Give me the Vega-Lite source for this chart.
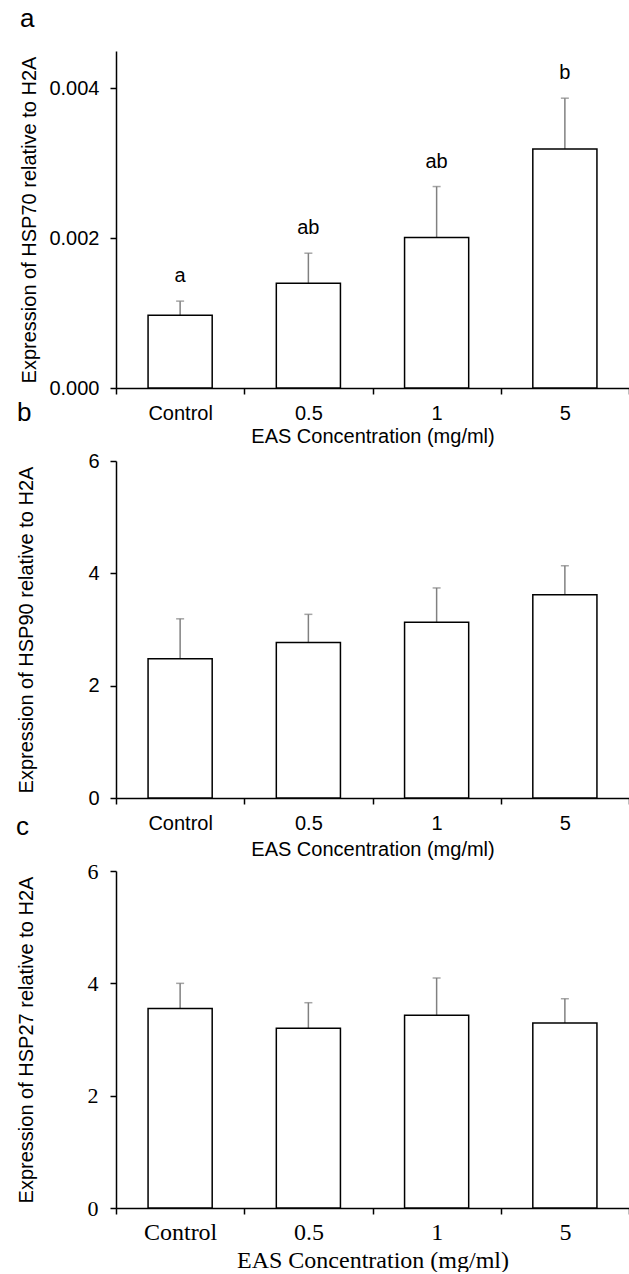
{
  "$schema": "https://vega.github.io/schema/vega-lite/v6.json",
  "padding": {"left": 16, "top": 6, "right": 0, "bottom": 0},
  "background": "white",
  "spacing": 73,
  "bounds": "flush",
  "datasets": {
    "hsp70": [
      {"conc": "Control", "mean": 0.00097, "upper": 0.00116, "letter": "a"},
      {"conc": "0.5", "mean": 0.0014, "upper": 0.0018, "letter": "ab"},
      {"conc": "1", "mean": 0.00201, "upper": 0.00269, "letter": "ab"},
      {"conc": "5", "mean": 0.00319, "upper": 0.00387, "letter": "b"}
    ],
    "hsp90": [
      {"conc": "Control", "mean": 2.48, "upper": 3.19},
      {"conc": "0.5", "mean": 2.77, "upper": 3.27},
      {"conc": "1", "mean": 3.13, "upper": 3.74},
      {"conc": "5", "mean": 3.62, "upper": 4.135}
    ],
    "hsp27": [
      {"conc": "Control", "mean": 3.55, "upper": 4.0},
      {"conc": "0.5", "mean": 3.2, "upper": 3.655},
      {"conc": "1", "mean": 3.43, "upper": 4.095},
      {"conc": "5", "mean": 3.295, "upper": 3.726}
    ]
  },
  "config": {
    "view": {"stroke": null},
    "axis": {
      "domainColor": "#000", "tickColor": "#000", "domainWidth": 1.5, "tickWidth": 1.5, "tickSize": 6,
      "grid": false, "labelColor": "#000", "titleColor": "#000",
      "labelFont": "Liberation Sans", "titleFont": "Liberation Sans",
      "labelFontSize": 20, "titleFontSize": 20, "titleFontWeight": "normal"
    },
    "title": {"font": "Liberation Sans", "fontSize": 26, "fontWeight": "normal", "anchor": "start", "frame": "bounds", "color": "#000"}
  },
  "vconcat": [
    {
      "title": {"text": "a", "offset": 19},
      "width": 513, "height": 337,
      "data": {"name": "hsp70"},
      "encoding": {
        "x": {"field": "conc", "type": "nominal", "sort": ["Control", "0.5", "1", "5"],
              "scale": {"paddingInner": 0, "paddingOuter": 0},
              "axis": {"title": "EAS Concentration (mg/ml)", "labelAngle": 0, "tickBand": "extent", "labelPadding": 9, "titlePadding": 3}}
      },
      "layer": [
        {"mark": {"type": "rule", "color": "#808080", "strokeWidth": 1.5},
         "encoding": {"y": {"field": "mean", "type": "quantitative", "scale": {"domain": [0, 0.0045]},
                            "title": "Expression of HSP70 relative to H2A",
                            "axis": {"values": [0, 0.002, 0.004], "format": ".3f", "labelPadding": 11, "titlePadding": 9}},
                      "y2": {"field": "upper"}}},
        {"mark": {"type": "tick", "color": "#808080", "thickness": 1.5, "size": 8},
         "encoding": {"y": {"field": "upper", "type": "quantitative", "title": "Expression of HSP70 relative to H2A"}}},
        {"mark": {"type": "bar", "fill": "white", "stroke": "#000", "strokeWidth": 1.5, "width": {"band": 0.5}},
         "encoding": {"y": {"field": "mean", "type": "quantitative", "title": "Expression of HSP70 relative to H2A"}}},
        {"mark": {"type": "text", "dy": -19, "baseline": "alphabetic", "fontSize": 20, "font": "Liberation Sans", "color": "#000"},
         "encoding": {"y": {"field": "upper", "type": "quantitative", "title": "Expression of HSP70 relative to H2A"}, "text": {"field": "letter"}}}
      ]
    },
    {
      "title": {"text": "b", "offset": 25},
      "width": 513, "height": 337,
      "data": {"name": "hsp90"},
      "encoding": {
        "x": {"field": "conc", "type": "nominal", "sort": ["Control", "0.5", "1", "5"],
              "scale": {"paddingInner": 0, "paddingOuter": 0},
              "axis": {"title": "EAS Concentration (mg/ml)", "labelAngle": 0, "tickBand": "extent", "labelPadding": 9, "titlePadding": 6}}
      },
      "layer": [
        {"mark": {"type": "rule", "color": "#808080", "strokeWidth": 1.5},
         "encoding": {"y": {"field": "mean", "type": "quantitative", "scale": {"domain": [0, 6]},
                            "title": "Expression of HSP90 relative to H2A",
                            "axis": {"values": [0, 2, 4, 6], "format": "d", "labelPadding": 11, "titlePadding": 51}},
                      "y2": {"field": "upper"}}},
        {"mark": {"type": "tick", "color": "#808080", "thickness": 1.5, "size": 8},
         "encoding": {"y": {"field": "upper", "type": "quantitative", "title": "Expression of HSP90 relative to H2A"}}},
        {"mark": {"type": "bar", "fill": "white", "stroke": "#000", "strokeWidth": 1.5, "width": {"band": 0.5}},
         "encoding": {"y": {"field": "mean", "type": "quantitative", "title": "Expression of HSP90 relative to H2A"}}}
      ]
    },
    {
      "title": {"text": "c", "offset": 20},
      "width": 513, "height": 337,
      "data": {"name": "hsp27"},
      "encoding": {
        "x": {"field": "conc", "type": "nominal", "sort": ["Control", "0.5", "1", "5"],
              "scale": {"paddingInner": 0, "paddingOuter": 0},
              "axis": {"title": "EAS Concentration (mg/ml)", "labelAngle": 0, "tickBand": "extent", "labelPadding": 6, "titlePadding": 4,
                       "labelFont": "Liberation Serif", "labelFontSize": 24, "titleFont": "Liberation Serif", "titleFontSize": 24}}
      },
      "layer": [
        {"mark": {"type": "rule", "color": "#808080", "strokeWidth": 1.5},
         "encoding": {"y": {"field": "mean", "type": "quantitative", "scale": {"domain": [0, 6]},
                            "title": "Expression of HSP27 relative to H2A",
                            "axis": {"values": [0, 2, 4, 6], "format": "d", "labelPadding": 12, "titlePadding": 51,
                                     "labelFont": "Liberation Serif", "labelFontSize": 22}},
                      "y2": {"field": "upper"}}},
        {"mark": {"type": "tick", "color": "#808080", "thickness": 1.5, "size": 8},
         "encoding": {"y": {"field": "upper", "type": "quantitative", "title": "Expression of HSP27 relative to H2A"}}},
        {"mark": {"type": "bar", "fill": "white", "stroke": "#000", "strokeWidth": 1.5, "width": {"band": 0.5}},
         "encoding": {"y": {"field": "mean", "type": "quantitative", "title": "Expression of HSP27 relative to H2A"}}}
      ]
    }
  ]
}
